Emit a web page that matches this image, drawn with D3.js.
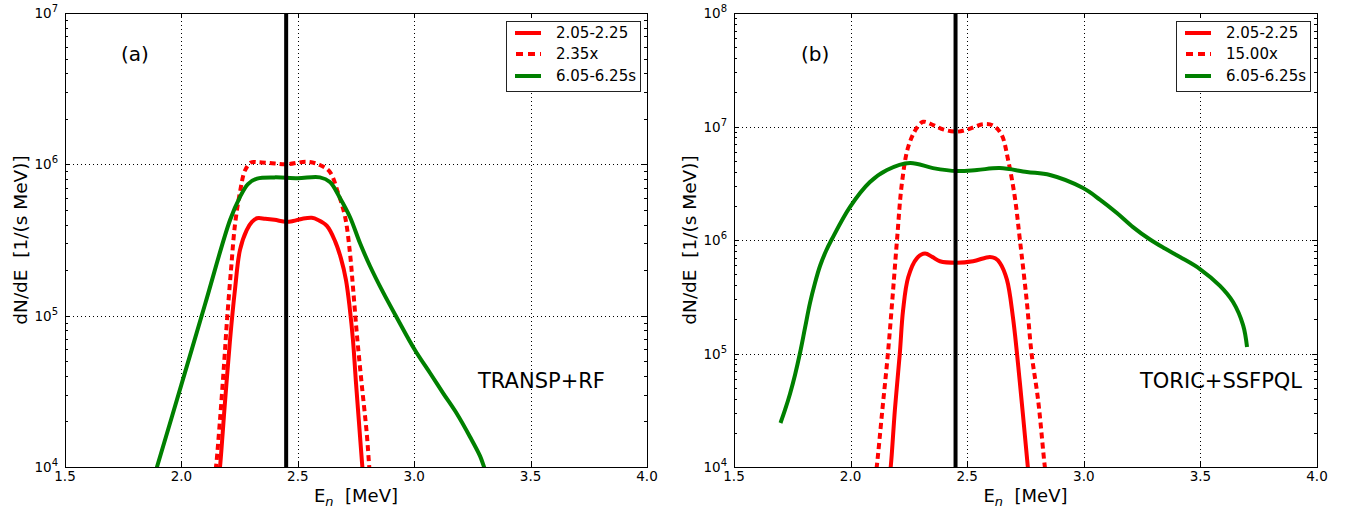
<!DOCTYPE html>
<html><head><meta charset="utf-8">
<script src="https://cdn.jsdelivr.net/npm/d3@7"></script>
<style>body{margin:0;background:#fff;} svg{display:block;font-family:"DejaVu Sans",sans-serif;}</style>
</head><body><svg id="c" width="1348" height="513"></svg>
<script>
// ---------- data ----------
const xTicks = [1.5, 2.0, 2.5, 3.0, 3.5, 4.0];
const xTickLabels = ["1.5", "2.0", "2.5", "3.0", "3.5", "4.0"];
const yTicksA = [1e4, 1e5, 1e6, 1e7];
const yTicksB = [1e4, 1e5, 1e6, 1e7, 1e8];
const yTickExpA = ["4", "5", "6", "7"];
const yTickExpB = ["4", "5", "6", "7", "8"];
const markerEnergy = 2.45;

const legendA = ["2.05-2.25", "2.35x", "6.05-6.25s"];
const legendB = ["2.05-2.25", "15.00x", "6.05-6.25s"];
const panelLabels = ["(a)", "(b)"];
const modelLabels = ["TRANSP+RF", "TORIC+SSFPQL"];

// panel (a) TRANSP+RF
const eA_red   = [2.1637,2.1658,2.187,2.2088,2.230,2.2517,2.2805,2.303,2.3247,2.36,2.40,2.45,2.48,2.52,2.56,2.587,2.625,2.660,2.685,2.707,2.724,2.737,2.750,2.763,2.776,2.780];
const vA_red   = [9.5e3,1.0e4,2.65e4,6.9e4,1.48e5,2.72e5,3.68e5,4.16e5,4.4e5,4.37e5,4.3e5,4.17e5,4.22e5,4.37e5,4.43e5,4.29e5,3.92e5,3.11e5,2.4e5,1.72e5,1.09e5,6.9e4,3.59e4,1.95e4,1.06e4,9.1e3];
const eA_dot   = [2.1465,2.1486,2.1658,2.183,2.196,2.213,2.230,2.2517,2.273,2.299,2.3247,2.38,2.45,2.54,2.595,2.638,2.673,2.703,2.724,2.738,2.754,2.774,2.796,2.807,2.81];
const vA_dot   = [9.6e3,1.0e4,2.05e4,4.72e4,9.35e4,2.0e5,3.97e5,6.56e5,9.1e5,1.03e6,1.035e6,1.02e6,1.0e6,1.04e6,9.9e5,8.9e5,6.47e5,4.51e5,2.6e5,1.48e5,7.45e4,3.59e4,1.68e4,1.0e4,8.9e3];
const eA_green = [1.885,1.895,2.0,2.101,2.209,2.252,2.286,2.325,2.40,2.50,2.595,2.638,2.681,2.724,2.767,2.810,2.866,2.926,3.003,3.068,3.124,3.184,3.240,3.283,3.300,3.309];
const vA_green = [8.9e3,1.0e4,3.5e4,1.18e5,4.29e5,6.1e5,7.4e5,8.05e5,8.2e5,8.1e5,8.2e5,7.64e5,6.0e5,4.49e5,3.02e5,2.13e5,1.43e5,9.66e4,5.93e4,4.18e4,3.08e4,2.24e4,1.58e4,1.18e4,1.0e4,9.1e3];

// panel (b) TORIC+SSFPQL
const eB_red   = [2.165,2.172,2.19,2.211,2.225,2.247,2.284,2.319,2.35,2.383,2.456,2.525,2.597,2.62,2.64,2.67,2.696,2.726,2.76,2.765];
const vB_red   = [7.9e3,1.0e4,3.2e4,1.0e5,2.4e5,4.7e5,6.9e5,7.6e5,7.1e5,6.5e5,6.3e5,6.5e5,7.1e5,6.9e5,6.3e5,4.5e5,2.1e5,5.5e4,1.0e4,7.9e3];
const eB_dot   = [2.105,2.112,2.136,2.160,2.18,2.199,2.22,2.247,2.283,2.311,2.354,2.396,2.455,2.503,2.569,2.611,2.647,2.676,2.704,2.726,2.755,2.776,2.804,2.833,2.84];
const vB_dot   = [7.9e3,1.0e4,3.16e4,1.0e5,3.16e5,1.0e6,3.16e6,6.6e6,9.66e6,1.1e7,1.03e7,9.44e6,9.0e6,9.44e6,1.05e7,1.02e7,8.5e6,5.0e6,2.4e6,1.0e6,2.95e5,1.0e5,3.9e4,1.0e4,7.9e3];
const eB_green = [1.6994,1.7187,1.740,1.7616,1.783,1.8045,1.826,1.8473,1.8688,1.8945,1.920,1.997,2.083,2.156,2.2547,2.353,2.456,2.542,2.64,2.756,2.855,2.997,3.069,3.142,3.211,3.284,3.348,3.4125,3.498,3.584,3.640,3.683,3.700];
const vB_green = [2.44e4,3.18e4,4.4e4,6.47e4,1.01e5,1.68e5,2.79e5,4.18e5,5.9e5,8.0e5,1.02e6,1.95e6,3.24e6,4.14e6,4.77e6,4.3e6,4.05e6,4.14e6,4.3e6,3.97e6,3.74e6,2.87e6,2.27e6,1.73e6,1.30e6,1.01e6,8.41e5,7.08e5,5.55e5,3.94e5,2.84e5,1.78e5,1.14e5];

// ---------- drawing ----------
const svg = d3.select("#c");
svg.append("rect").attr("width", 1348).attr("height", 513).attr("fill", "#fff");

const RED = "#ff0000", GREEN = "#008000";
const DASH = "6,4";

function panel(cfg) {
  const x = d3.scaleLinear().domain([1.5, 4.0]).range([cfg.left, cfg.right]);
  const y = d3.scaleLog().domain(cfg.yDomain).range([cfg.bottom, cfg.top]);
  const g = svg.append("g");
  const px = v => Math.round(v) + 0.5;

  svg.append("clipPath").attr("id", "clip" + cfg.id)
    .append("rect").attr("x", cfg.left).attr("y", cfg.top)
    .attr("width", cfg.right - cfg.left).attr("height", cfg.bottom - cfg.top);

  // grid
  const grid = g.append("g").attr("stroke", "#000").attr("stroke-width", 1)
    .attr("stroke-dasharray", "1,3").attr("fill", "none");
  xTicks.forEach(t => grid.append("line")
    .attr("x1", px(x(t))).attr("x2", px(x(t))).attr("y1", cfg.top).attr("y2", cfg.bottom));
  cfg.yTicks.forEach(t => grid.append("line")
    .attr("x1", cfg.left).attr("x2", cfg.right).attr("y1", px(y(t))).attr("y2", px(y(t))));

  // curves
  const line = d3.line().x(d => x(d[0])).y(d => y(d[1])).curve(d3.curveCatmullRom.alpha(0.5));
  const cg = g.append("g").attr("clip-path", `url(#clip${cfg.id})`);
  cfg.series.forEach(s => {
    cg.append("path").datum(d3.zip(s.e, s.v))
      .attr("d", line).attr("fill", "none").attr("stroke", s.color)
      .attr("stroke-width", 4).attr("stroke-linejoin", "round")
      .attr("stroke-dasharray", s.dash ? DASH : null);
  });
  cg.append("line").attr("x1", x(markerEnergy)).attr("x2", x(markerEnergy))
    .attr("y1", cfg.top).attr("y2", cfg.bottom).attr("stroke", "#000").attr("stroke-width", 4);

  // spines
  g.append("rect").attr("x", px(cfg.left)).attr("y", px(cfg.top))
    .attr("width", Math.round(cfg.right) - Math.round(cfg.left))
    .attr("height", Math.round(cfg.bottom) - Math.round(cfg.top))
    .attr("fill", "none").attr("stroke", "#000").attr("stroke-width", 1);

  // ticks
  const tk = g.append("g").attr("stroke", "#000").attr("stroke-width", 1);
  xTicks.forEach(t => {
    const xx = px(x(t));
    tk.append("line").attr("x1", xx).attr("x2", xx).attr("y1", cfg.bottom).attr("y2", cfg.bottom - 5);
    tk.append("line").attr("x1", xx).attr("x2", xx).attr("y1", cfg.top).attr("y2", cfg.top + 5);
  });
  const [y0, y1] = cfg.yDomain;
  for (let d = Math.log10(y0); d < Math.log10(y1); d++) {
    for (let k = 1; k <= 9; k++) {
      const v = k * Math.pow(10, d);
      const yy = px(y(v));
      const len = k === 1 ? 5 : 3;
      tk.append("line").attr("x1", cfg.left).attr("x2", cfg.left + len).attr("y1", yy).attr("y2", yy);
      tk.append("line").attr("x1", cfg.right).attr("x2", cfg.right - len).attr("y1", yy).attr("y2", yy);
    }
  }

  // tick labels
  xTicks.forEach((t, i) => g.append("text").attr("x", x(t)).attr("y", cfg.bottom + 14)
    .attr("text-anchor", "middle").attr("font-size", 13.5).attr("fill", "#000").text(xTickLabels[i]));
  cfg.yTicks.forEach((t, i) => {
    const tx = g.append("text").attr("x", cfg.left - 7).attr("y", y(t) + 5)
      .attr("text-anchor", "end").attr("font-size", 13.5).attr("fill", "#000");
    tx.append("tspan").text("10");
    tx.append("tspan").attr("dy", -6).attr("font-size", 10).text(cfg.yExp[i]);
  });

  // axis labels
  const xl = g.append("text").attr("x", (cfg.left + cfg.right) / 2).attr("y", cfg.bottom + 35)
    .attr("text-anchor", "middle").attr("font-size", 18).attr("fill", "#000");
  xl.append("tspan").text("E");
  xl.append("tspan").attr("dy", 4).attr("font-size", 13).attr("font-style", "italic").text("n");
  xl.append("tspan").attr("dy", -4).text("\u00a0\u00a0[MeV]");

  g.append("text").attr("transform", `translate(${cfg.left - 38},${(cfg.top + cfg.bottom) / 2}) rotate(-90)`)
    .attr("text-anchor", "middle").attr("font-size", 18.5).attr("fill", "#000")
    .text("dN/dE\u00a0\u00a0[1/(s MeV)]");

  // annotations
  g.append("text").attr("x", cfg.left + cfg.labelDx).attr("y", 61).attr("font-size", 20)
    .attr("fill", "#000").text(cfg.panelLabel);
  g.append("text").attr("x", cfg.left + cfg.modelDx).attr("y", 388).attr("font-size", 21)
    .attr("fill", "#000").text(cfg.modelLabel);

  // legend
  const bx = cfg.right - 141, by = cfg.top + 8;
  const lg = g.append("g");
  lg.append("rect").attr("x", Math.round(bx) + 0.5).attr("y", by + 0.5).attr("width", 134).attr("height", 70)
    .attr("fill", "#fff").attr("stroke", "#222").attr("stroke-width", 1);
  const rows = [12, 33, 55];
  cfg.series.forEach((s, i) => {
    lg.append("line").attr("x1", bx + 9).attr("x2", bx + 35).attr("y1", by + rows[i]).attr("y2", by + rows[i])
      .attr("stroke", s.color).attr("stroke-width", 4).attr("stroke-dasharray", s.dash ? "7,5" : null)
      .attr("stroke-dashoffset", s.dash ? -1 : null);
    lg.append("text").attr("x", bx + 50).attr("y", by + rows[i] + 5).attr("font-size", 15)
      .attr("fill", "#000").text(cfg.legend[i]);
  });
}

panel({
  id: "A", left: 65, right: 647, top: 13, bottom: 467,
  yDomain: [1e4, 1e7], yTicks: yTicksA, yExp: yTickExpA,
  legend: legendA, panelLabel: panelLabels[0], modelLabel: modelLabels[0],
  labelDx: 56, modelDx: 413,
  series: [
    { e: eA_red, v: vA_red, color: RED, dash: false },
    { e: eA_dot, v: vA_dot, color: RED, dash: true },
    { e: eA_green, v: vA_green, color: GREEN, dash: false }
  ]
});
panel({
  id: "B", left: 734, right: 1317, top: 13, bottom: 467,
  yDomain: [1e4, 1e8], yTicks: yTicksB, yExp: yTickExpB,
  legend: legendB, panelLabel: panelLabels[1], modelLabel: modelLabels[1],
  labelDx: 67, modelDx: 406,
  series: [
    { e: eB_red, v: vB_red, color: RED, dash: false },
    { e: eB_dot, v: vB_dot, color: RED, dash: true },
    { e: eB_green, v: vB_green, color: GREEN, dash: false }
  ]
});
</script></body></html>
